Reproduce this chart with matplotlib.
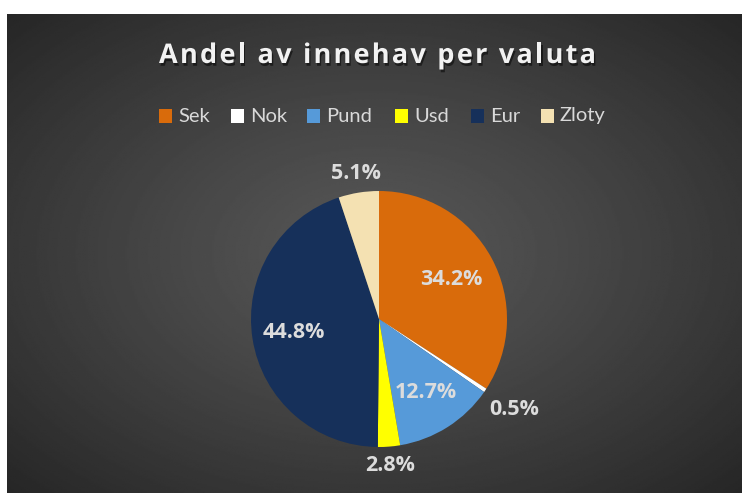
import numpy as np
import matplotlib
matplotlib.use('Agg')
import matplotlib.pyplot as plt
import matplotlib.patheffects as pe
from matplotlib.font_manager import FontProperties

# data
valutor = ['Sek', 'Nok', 'Pund', 'Usd', 'Eur', 'Zloty']
andel = [34.2, 0.5, 12.7, 2.8, 44.8, 5.1]
farger = ['#D96B0B', '#FFFFFF', '#569AD9', '#FFFF00', '#16305A', '#F4E1B2']
titel = 'Andel av innehav per valuta'
# how far from the centre each label sits (fraction of radius)
label_avst = [0.64, 1.27, 0.68, 1.15, 0.67, 1.15]

W, H = 742, 493
fig = plt.figure(figsize=(W / 100, H / 100), dpi=100)
fig.patch.set_facecolor('white')

# dark radial gradient background
bg = fig.add_axes([7 / W, 0, 1 - 7 / W, (H - 14) / H])
yy, xx = np.mgrid[-1:1:300j, -1:1:450j]
rr = np.sqrt(xx ** 2 + yy ** 2) / np.sqrt(2)
grad = 0.34 - 0.19 * rr ** 1.2
bg.imshow(grad, cmap='gray', vmin=0, vmax=1, aspect='auto', extent=[0, 1, 0, 1])
bg.axis('off')

font = ['Lato', 'DejaVu Sans']
boldfont = ['Open Sans', 'DejaVu Sans']
renderer = fig.canvas.get_renderer()

# title with letter spacing, laid out char by char between x=159 and x=596
tprop = FontProperties(family=boldfont, weight='bold', size=19.5)
widths = [renderer.get_text_width_height_descent(ch, tprop, ismath=False)[0] for ch in titel]
spacing = (437 - sum(widths)) / (len(titel) - 1)
x = 159
for ch, w in zip(titel, widths):
    fig.text(x / W, 1 - 56 / H, ch, ha='left', va='center', color='#F2F2F2',
             fontproperties=tprop,
             path_effects=[pe.withSimplePatchShadow(offset=(1, -2), alpha=0.5, shadow_rgbFace='black')])
    x += w + spacing

# legend drawn by hand along one row
leg_x = [159, 231, 307, 395, 471, 541]
for x, name, c in zip(leg_x, valutor, farger):
    fig.patches.append(plt.Rectangle((x / W, 1 - 123 / H), 13 / W, 14 / H,
                                     transform=fig.transFigure, facecolor=c, edgecolor='none'))
    fig.text((x + 19) / W, 1 - 116 / H, name, ha='left', va='center',
             color='#D9D9D9', fontsize=14.5, family=font)

# pie
R = 128
cx, cy = 379, H - 319
ax = fig.add_axes([(cx - R) / W, (cy - R) / H, 2 * R / W, 2 * R / H])
ax.set_facecolor('none')
wedges, texts = ax.pie(andel, colors=farger, startangle=90, counterclock=False,
                       radius=1, wedgeprops=dict(linewidth=0))
ax.set_xlim(-1, 1)
ax.set_ylim(-1, 1)
ax.set_aspect('equal')
ax.axis('off')

for w, v, d in zip(wedges, andel, label_avst):
    mid = np.deg2rad((w.theta1 + w.theta2) / 2)
    ax.text(d * np.cos(mid), d * np.sin(mid), f'{v:.1f}%', ha='center', va='center',
            color='#DCDCDC', fontsize=15.5, fontweight='bold', family=boldfont, clip_on=False)

fig.savefig('out.png', dpi=100)
